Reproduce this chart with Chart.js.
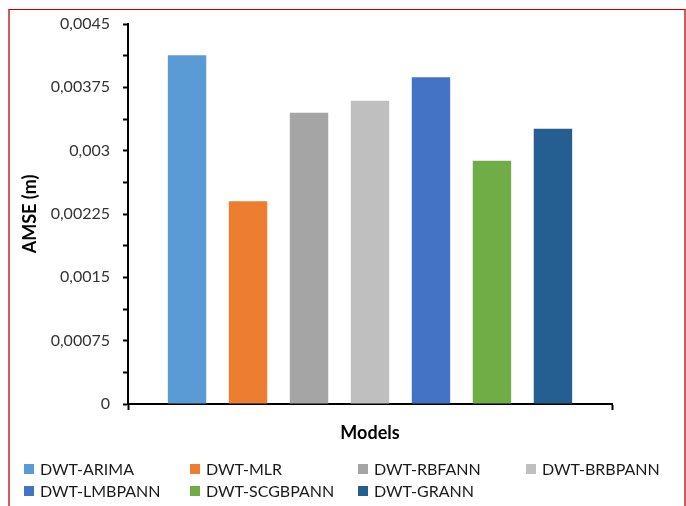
<!DOCTYPE html>
<html>
<head>
<meta charset="utf-8">
<script src="https://cdn.jsdelivr.net/npm/chart.js@4/dist/chart.umd.min.js"></script>
<style>
  html, body { margin: 0; padding: 0; background: #fff; overflow: hidden; }
  #wrap { position: relative; width: 686px; height: 506px; }
  #frame {
    position: absolute; left: 8px; top: 9px; width: 674px; height: 600px;
    border-top: 1px solid #c00000; border-left: 2px solid #d55a5a; border-right: 2px solid #d55a5a;
    pointer-events: none;
  }
  canvas { position: absolute; left: 0; top: 0; }
</style>
</head>
<body>
<div id="wrap">
  <canvas id="chart" width="686" height="506"></canvas>
  <div id="frame"></div>
</div>
<script>
// Models compared and their AMSE values (m)
const models = ['DWT-ARIMA', 'DWT-MLR', 'DWT-RBFANN', 'DWT-BRBPANN', 'DWT-LMBPANN', 'DWT-SCGBPANN', 'DWT-GRANN'];
const amse = [0.00413, 0.0024, 0.00345, 0.00359, 0.00387, 0.00288, 0.00326];
const colors = ['#5B9BD5', '#ED7D31', '#A5A5A5', '#BFBFBF', '#4472C4', '#70AD47', '#255E91'];
// Major tick labels (decimal comma); minor ticks sit halfway between them
const yTickLabels = ['0', '0,00075', '0,0015', '0,00225', '0,003', '0,00375', '0,0045'];

const FONT = 'Lato, "Open Sans", sans-serif';

// Legend drawn as a grid of four columns under the plot
const gridLegend = {
  id: 'gridLegend',
  afterDraw(chart) {
    const ctx = chart.ctx;
    const colX = [24, 190, 358, 526];
    const rowY = [469, 491];
    ctx.save();
    ctx.font = '16px ' + FONT;
    ctx.textBaseline = 'middle';
    ctx.textAlign = 'left';
    chart.data.datasets.forEach((ds, i) => {
      const x = colX[i % 4];
      const y = rowY[Math.floor(i / 4)];
      ctx.fillStyle = ds.backgroundColor;
      ctx.fillRect(x, y - 5, 10, 10);
      ctx.fillStyle = '#1a1a1a';
      ctx.fillText(ds.label, x + 16, y + 1);
    });
    ctx.restore();
  }
};

new Chart(document.getElementById('chart'), {
  type: 'bar',
  data: {
    labels: [''],
    datasets: models.map((m, i) => ({
      label: m,
      data: [amse[i]],
      backgroundColor: colors[i],
      categoryPercentage: 0.882,
      barPercentage: 0.63
    }))
  },
  plugins: [gridLegend],
  options: {
    responsive: false,
    animation: false,
    layout: { padding: { left: 0, top: 24, right: 74, bottom: 62 } },
    plugins: {
      legend: { display: false },
      tooltip: { enabled: false },
      title: { display: false }
    },
    scales: {
      x: {
        offset: true,
        grid: { offset: true, drawOnChartArea: false, drawTicks: true, tickLength: 6, color: '#000', tickWidth: 2 },
        border: { display: true, color: '#000', width: 2 },
        ticks: { display: false },
        title: {
          display: true, text: 'Models', color: '#000',
          font: { family: FONT, size: 18, weight: 'bold' },
          padding: { top: 11, bottom: 0 }
        },
        afterFit(scale) { scale.height = 40; }
      },
      y: {
        min: 0,
        max: 0.0045,
        grid: { drawOnChartArea: false, drawTicks: true, tickLength: 5, color: '#000', tickWidth: 2 },
        border: { display: true, color: '#000', width: 2 },
        ticks: {
          stepSize: 0.000375,
          autoSkip: false,
          padding: 13,
          color: '#333',
          font: { family: FONT, size: 16 },
          callback: (v, i) => (i % 2 === 0 ? yTickLabels[i / 2] : '')
        },
        title: {
          display: true, text: 'AMSE (m)', color: '#000',
          font: { family: FONT, size: 18, weight: 'bold' },
          padding: { top: 19, bottom: 0 }
        },
        afterFit(scale) { scale.width = 128; }
      }
    }
  }
});
</script>
</body>
</html>
